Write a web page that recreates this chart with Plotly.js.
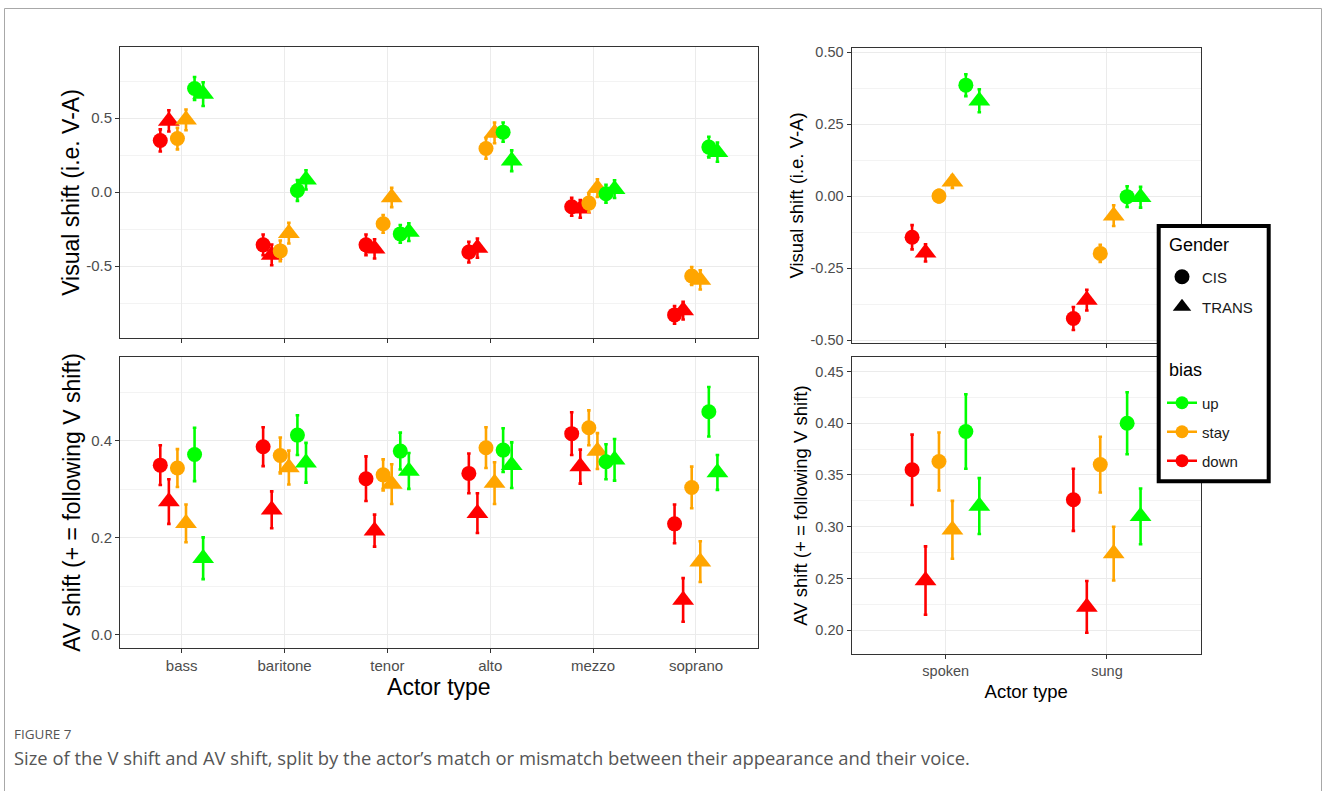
<!DOCTYPE html>
<html>
<head>
<meta charset="utf-8">
<script src="https://cdn.plot.ly/plotly-3.0.1.min.js"></script>
<style>
html,body{margin:0;padding:0;background:#fff;}
#chart{width:1328px;height:791px;}
</style>
</head>
<body>
<div id="chart"></div>
<script>
// ---------------- data ----------------
const voiceTypes = ['bass', 'baritone', 'tenor', 'alto', 'mezzo', 'soprano'];
const modes = ['spoken', 'sung'];

// tick labels (ggplot style, hyphen minus)
const vTickVals = [-0.5, 0, 0.5];
const vTickText = ['-0.5', '0.0', '0.5'];
const avTickVals = [0, 0.2, 0.4];
const avTickText = ['0.0', '0.2', '0.4'];
const vModeTickVals = [-0.5, -0.25, 0, 0.25, 0.5];
const vModeTickText = ['-0.50', '-0.25', '0.00', '0.25', '0.50'];
const avModeTickVals = [0.20, 0.25, 0.30, 0.35, 0.40, 0.45];
const avModeTickText = ['0.20', '0.25', '0.30', '0.35', '0.40', '0.45'];

// Visual shift (V-A), by voice type
const vShiftDownCis   = [0.349, -0.356, -0.356, -0.405, -0.099, -0.829];
const vShiftDownTrans = [0.481, -0.424, -0.383, -0.378, -0.113, -0.800];
const vShiftStayCis   = [0.362, -0.397, -0.214,  0.295, -0.074, -0.566];
const vShiftStayTrans = [0.488, -0.277, -0.036,  0.400,  0.027, -0.593];
const vShiftUpCis     = [0.700,  0.011, -0.282,  0.405, -0.011,  0.304];
const vShiftUpTrans   = [0.662,  0.083, -0.270,  0.212,  0.020,  0.270];
const vErrDownCis   = [0.075, 0.070, 0.070, 0.070, 0.060, 0.060];
const vErrDownTrans = [0.072, 0.070, 0.065, 0.065, 0.060, 0.060];
const vErrStayCis   = [0.073, 0.070, 0.060, 0.070, 0.060, 0.060];
const vErrStayTrans = [0.070, 0.070, 0.065, 0.070, 0.060, 0.065];
const vErrUpCis     = [0.077, 0.070, 0.060, 0.065, 0.060, 0.070];
const vErrUpTrans   = [0.080, 0.065, 0.060, 0.070, 0.060, 0.065];

// AV shift, by voice type
const avShiftDownCis   = [0.350, 0.388, 0.322, 0.333, 0.415, 0.229];
const avShiftDownTrans = [0.275, 0.258, 0.215, 0.251, 0.347, 0.072];
const avShiftStayCis   = [0.344, 0.370, 0.330, 0.386, 0.427, 0.304];
const avShiftStayTrans = [0.230, 0.345, 0.311, 0.313, 0.379, 0.151];
const avShiftUpCis     = [0.372, 0.412, 0.379, 0.381, 0.357, 0.460];
const avShiftUpTrans   = [0.158, 0.355, 0.338, 0.350, 0.361, 0.335];
const avErrDownCis   = [0.041, 0.040, 0.046, 0.041, 0.044, 0.040];
const avErrDownTrans = [0.046, 0.038, 0.033, 0.041, 0.035, 0.045];
const avErrStayCis   = [0.039, 0.037, 0.032, 0.042, 0.036, 0.043];
const avErrStayTrans = [0.039, 0.035, 0.041, 0.043, 0.037, 0.042];
const avErrUpCis     = [0.055, 0.041, 0.038, 0.045, 0.036, 0.051];
const avErrUpTrans   = [0.043, 0.041, 0.037, 0.047, 0.043, 0.036];

// Visual shift, by mode (spoken / sung)
const vModeDownCis   = [-0.143, -0.425];
const vModeDownTrans = [-0.197, -0.361];
const vModeStayCis   = [ 0.000, -0.199];
const vModeStayTrans = [ 0.050, -0.068];
const vModeUpCis     = [ 0.385, -0.002];
const vModeUpTrans   = [ 0.331, -0.004];
const vModeErrDownCis   = [0.042, 0.040];
const vModeErrDownTrans = [0.030, 0.036];
const vModeErrStayCis   = [0.022, 0.030];
const vModeErrStayTrans = [0.022, 0.036];
const vModeErrUpCis     = [0.038, 0.036];
const vModeErrUpTrans   = [0.040, 0.036];

// AV shift, by mode
const avModeDownCis   = [0.355, 0.326];
const avModeDownTrans = [0.248, 0.2225];
const avModeStayCis   = [0.363, 0.360];
const avModeStayTrans = [0.297, 0.274];
const avModeUpCis     = [0.392, 0.400];
const avModeUpTrans   = [0.320, 0.310];
const avModeErrDownCis   = [0.034, 0.030];
const avModeErrDownTrans = [0.033, 0.025];
const avModeErrStayCis   = [0.028, 0.027];
const avModeErrStayTrans = [0.028, 0.026];
const avModeErrUpCis     = [0.036, 0.030];
const avModeErrUpTrans   = [0.027, 0.027];

const biasLevels = ['up', 'stay', 'down'];
const biasColors = {up: '#00FF00', stay: '#FFA500', down: '#FF0000'};
const genderLevels = ['CIS', 'TRANS'];
const genderSymbols = {CIS: 'circle', TRANS: 'triangle-up'};

// ---------------- traces ----------------
const W = 1328, H = 791;
const px = v => v / W;
const py = v => 1 - v / H;
const SIZE = {CIS: 15, TRANS: 19};

function pt(cats, ys, errs, bias, gender, xa, ya) {
  const c = biasColors[bias];
  return {
    type: 'scatter', mode: 'markers',
    x: cats, y: ys, xaxis: xa, yaxis: ya,
    name: bias + ' ' + gender, showlegend: false,
    marker: {color: c, symbol: genderSymbols[gender], size: SIZE[gender], line: {width: 0}},
    error_y: {type: 'data', array: errs, visible: true, color: c, thickness: 2.6, width: 1.8},
    hoverinfo: 'x+y'
  };
}

function panel(cats, s, xa, ya) {
  return [
    pt(cats, s[0][0], s[0][1], 'down', 'CIS', xa, ya),
    pt(cats, s[1][0], s[1][1], 'down', 'TRANS', xa, ya),
    pt(cats, s[2][0], s[2][1], 'stay', 'CIS', xa, ya),
    pt(cats, s[3][0], s[3][1], 'stay', 'TRANS', xa, ya),
    pt(cats, s[4][0], s[4][1], 'up', 'CIS', xa, ya),
    pt(cats, s[5][0], s[5][1], 'up', 'TRANS', xa, ya)
  ];
}

const traces = [].concat(
  panel(voiceTypes, [[vShiftDownCis, vErrDownCis], [vShiftDownTrans, vErrDownTrans], [vShiftStayCis, vErrStayCis],
                     [vShiftStayTrans, vErrStayTrans], [vShiftUpCis, vErrUpCis], [vShiftUpTrans, vErrUpTrans]], 'x', 'y'),
  panel(voiceTypes, [[avShiftDownCis, avErrDownCis], [avShiftDownTrans, avErrDownTrans], [avShiftStayCis, avErrStayCis],
                     [avShiftStayTrans, avErrStayTrans], [avShiftUpCis, avErrUpCis], [avShiftUpTrans, avErrUpTrans]], 'x2', 'y2'),
  panel(modes, [[vModeDownCis, vModeErrDownCis], [vModeDownTrans, vModeErrDownTrans], [vModeStayCis, vModeErrStayCis],
                [vModeStayTrans, vModeErrStayTrans], [vModeUpCis, vModeErrUpCis], [vModeUpTrans, vModeErrUpTrans]], 'x3', 'y3'),
  panel(modes, [[avModeDownCis, avModeErrDownCis], [avModeDownTrans, avModeErrDownTrans], [avModeStayCis, avModeErrStayCis],
                [avModeStayTrans, avModeErrStayTrans], [avModeUpCis, avModeErrUpCis], [avModeUpTrans, avModeErrUpTrans]], 'x4', 'y4')
);

// legend-only traces (on a hidden axis pair)
genderLevels.forEach(g => traces.push({
  type: 'scatter', mode: 'markers', x: [null], y: [null], xaxis: 'x5', yaxis: 'y5',
  name: g, legend: 'legend', legendgroup: 'g_' + g, showlegend: true,
  marker: {color: '#000', symbol: genderSymbols[g], size: SIZE[g]}
}));
biasLevels.forEach(b => traces.push({
  type: 'scatter', mode: 'lines+markers', x: [null], y: [null], xaxis: 'x5', yaxis: 'y5',
  name: b, legend: 'legend2', legendgroup: 'b_' + b, showlegend: true,
  line: {color: biasColors[b], width: 2.6}, marker: {color: biasColors[b], symbol: 'circle', size: 13}
}));

// ---------------- layout ----------------
const FONT = 'Liberation Sans, Arial, sans-serif';
function axisBase(extra) {
  return Object.assign({
    showline: true, mirror: true, linecolor: '#333333', linewidth: 1,
    showgrid: true, gridcolor: '#EBEBEB', gridwidth: 1, zeroline: false,
    ticks: 'outside', ticklen: 4, tickwidth: 1, tickcolor: '#333333',
    tickfont: {family: FONT, size: 15, color: '#4D4D4D'}, fixedrange: true
  }, extra);
}
const xL = [px(120), px(757.7)];
const xR = [px(851.5), px(1201)];
const minorGrid = d => ({dtick: d, tick0: 0, showgrid: true, gridcolor: '#F3F3F3', gridwidth: 1, ticks: ''});

const layout = {
  width: W, height: H,
  margin: {l: 0, r: 0, t: 0, b: 0},
  paper_bgcolor: '#FFFFFF', plot_bgcolor: '#FFFFFF',
  font: {family: FONT, color: '#000'},
  scattermode: 'group', scattergap: 0.5,
  showlegend: true,
  xaxis: axisBase({domain: xL, anchor: 'y', type: 'category', categoryorder: 'array', categoryarray: voiceTypes,
                   range: [-0.6, 5.6], showticklabels: false}),
  yaxis: axisBase({domain: [py(338), py(47)], anchor: 'x', range: [-0.985, 0.98],
                   tickmode: 'array', tickvals: vTickVals, ticktext: vTickText,
                   minor: minorGrid(0.25),
                   title: {text: 'Visual shift (i.e. V-A)', font: {size: 23, color: '#000'}, standoff: 0}}),
  xaxis2: axisBase({domain: xL, anchor: 'y2', type: 'category', categoryorder: 'array', categoryarray: voiceTypes,
                    range: [-0.6, 5.6], title: {text: 'Actor type', font: {size: 23, color: '#000'}, standoff: 4}}),
  yaxis2: axisBase({domain: [py(648), py(357)], anchor: 'x2', range: [-0.027, 0.573],
                    tickmode: 'array', tickvals: avTickVals, ticktext: avTickText,
                    minor: minorGrid(0.1),
                    title: {text: 'AV shift (+ = following V shift)', font: {size: 23, color: '#000'}, standoff: 4}}),
  xaxis3: axisBase({domain: xR, anchor: 'y3', type: 'category', categoryorder: 'array', categoryarray: modes,
                    range: [-0.584, 1.583], showticklabels: false}),
  yaxis3: axisBase({domain: [py(343), py(48)], anchor: 'x3', range: [-0.51, 0.514],
                    tickmode: 'array', tickvals: vModeTickVals, ticktext: vModeTickText,
                    tickfont: {family: FONT, size: 14.5, color: '#4D4D4D'},
                    minor: minorGrid(0.125),
                    title: {text: 'Visual shift (i.e. V-A)', font: {size: 18.5, color: '#000'}, standoff: 2}}),
  xaxis4: axisBase({domain: xR, anchor: 'y4', type: 'category', categoryorder: 'array', categoryarray: modes,
                    range: [-0.584, 1.583], tickfont: {family: FONT, size: 14.5, color: '#4D4D4D'},
                    title: {text: 'Actor type', font: {size: 18.5, color: '#000'}, standoff: 6}}),
  yaxis4: axisBase({domain: [py(654), py(357)], anchor: 'x4', range: [0.177, 0.464],
                    tickmode: 'array', tickvals: avModeTickVals, ticktext: avModeTickText,
                    tickfont: {family: FONT, size: 14.5, color: '#4D4D4D'},
                    minor: minorGrid(0.025),
                    title: {text: 'AV shift (+ = following V shift)', font: {size: 18.5, color: '#000'}, standoff: 2}}),
  xaxis5: {domain: [0, 0.01], anchor: 'y5', visible: false, fixedrange: true},
  yaxis5: {domain: [0, 0.01], anchor: 'x5', visible: false, fixedrange: true},
  legend: {
    x: px(1162), y: py(260.5), xanchor: 'left', yanchor: 'top',
    bgcolor: 'rgba(0,0,0,0)', borderwidth: 0, traceorder: 'grouped', tracegroupgap: 7.5,
    font: {family: FONT, size: 15, color: '#1A1A1A'}
  },
  legend2: {
    x: px(1162), y: py(386.5), xanchor: 'left', yanchor: 'top',
    bgcolor: 'rgba(0,0,0,0)', borderwidth: 0, traceorder: 'grouped', tracegroupgap: 6.5,
    font: {family: FONT, size: 15, color: '#1A1A1A'}
  },
  shapes: [
    {type: 'rect', xref: 'paper', yref: 'paper', x0: px(4.5), x1: px(1321.5), y0: py(800), y1: py(8.5),
     line: {color: '#A8A8A8', width: 1}, fillcolor: 'rgba(0,0,0,0)', layer: 'below'},
    {type: 'rect', xref: 'paper', yref: 'paper', x0: px(1158.7), x1: px(1268.7), y0: py(481.3), y1: py(226),
     line: {color: '#000000', width: 4}, fillcolor: '#FFFFFF', layer: 'above'}
  ],
  annotations: [
    {xref: 'paper', yref: 'paper', x: px(1167), y: py(245), xanchor: 'left', yanchor: 'middle', showarrow: false,
     text: 'Gender', font: {family: FONT, size: 18, color: '#000'}},
    {xref: 'paper', yref: 'paper', x: px(1167), y: py(370), xanchor: 'left', yanchor: 'middle', showarrow: false,
     text: 'bias', font: {family: FONT, size: 18, color: '#000'}},
    {xref: 'paper', yref: 'paper', x: px(12), y: py(734), xanchor: 'left', yanchor: 'middle', showarrow: false,
     text: 'FIGURE 7', font: {family: 'Open Sans, sans-serif', size: 13.5, color: '#555555'}},
    {xref: 'paper', yref: 'paper', x: px(12), y: py(757), xanchor: 'left', yanchor: 'middle', showarrow: false,
     text: 'Size of the V shift and AV shift, split by the actor\u2019s match or mismatch between their appearance and their voice.',
     font: {family: 'Open Sans, sans-serif', size: 18.4, color: '#555555'}}
  ]
};

Plotly.newPlot('chart', traces, layout, {displayModeBar: false, staticPlot: true});
</script>
</body>
</html>
